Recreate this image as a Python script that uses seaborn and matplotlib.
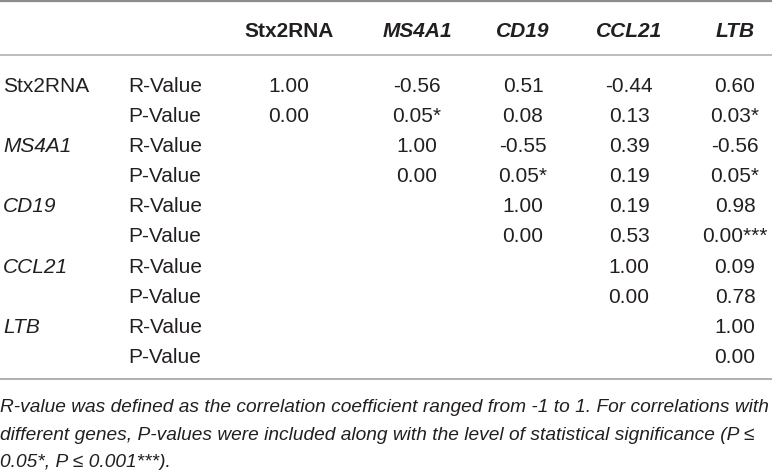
import matplotlib
matplotlib.use("Agg")
import matplotlib.pyplot as plt
import seaborn as sns
from matplotlib import font_manager

sns.set_theme(style="white")

# table content
genes = ["Stx2RNA", "MS4A1", "CD19", "CCL21", "LTB"]
italic_genes = [False, True, True, True, True]

# upper triangle, row i holds columns i..4
r_values = [
    [1.00, -0.56, 0.51, -0.44, 0.60],
    [1.00, -0.55, 0.39, -0.56],
    [1.00, 0.19, 0.98],
    [1.00, 0.09],
    [1.00],
]
p_values = [
    [0.00, 0.05, 0.08, 0.13, 0.03],
    [0.00, 0.05, 0.19, 0.05],
    [0.00, 0.53, 0.00],
    [0.00, 0.78],
    [0.00],
]
p_stars = [
    ["", "*", "", "", "*"],
    ["", "*", "", "*"],
    ["", "", "***"],
    ["", ""],
    [""],
]
stat_labels = ["R-Value", "P-Value"]

footnote = [
    "R-value was defined as the correlation coefficient ranged from -1 to 1. For correlations with",
    "different genes, P-values were included along with the level of statistical significance (P \u2264",
    "0.05*, P \u2264 0.001***).",
]

installed = {f.name for f in font_manager.fontManager.ttflist}
main_font = "Liberation Sans" if "Liberation Sans" in installed else "DejaVu Sans"
note_font = "Liberation Sans Narrow" if "Liberation Sans Narrow" in installed else main_font
plt.rcParams["font.family"] = [main_font, "DejaVu Sans"]

W, H = 772, 470
fig = plt.figure(figsize=(W / 100, H / 100), dpi=100)
ax = fig.add_axes([0, 0, 1, 1])
ax.set_xlim(0, W)
ax.set_ylim(H, 0)
ax.axis("off")

fs = 15
txt = "#231f20"
col_x = [289, 417, 523, 629, 735]
gene_x, stat_x = 3, 128
head_base = 37
row_base0, row_h = 92, 30.1

# rules
ax.axhline(1, color="#8c8c8c", lw=1.6)
ax.axhline(55, color="#bdbdbd", lw=1.4)
ax.axhline(379, color="#b0b0b0", lw=1.4)

# header
for j, g in enumerate(genes):
    ax.text(col_x[j], head_base, g, ha="center", va="baseline", fontsize=fs,
            fontweight="bold", fontstyle="italic" if italic_genes[j] else "normal", color=txt)

# body
for i, g in enumerate(genes):
    yr = row_base0 + (2 * i) * row_h
    yp = row_base0 + (2 * i + 1) * row_h
    ax.text(gene_x, yr, g, ha="left", va="baseline", fontsize=fs,
            fontstyle="italic" if italic_genes[i] else "normal", color=txt)
    ax.text(stat_x, yr, stat_labels[0], ha="left", va="baseline", fontsize=fs, color=txt)
    ax.text(stat_x, yp, stat_labels[1], ha="left", va="baseline", fontsize=fs, color=txt)
    for k, (r, p, s) in enumerate(zip(r_values[i], p_values[i], p_stars[i])):
        x = col_x[i + k]
        ax.text(x, yr, f"{r:.2f}", ha="center", va="baseline", fontsize=fs, color=txt)
        ax.text(x, yp, f"{p:.2f}{s}", ha="center", va="baseline", fontsize=fs, color=txt)

# footnote, fitted to the table width
note_base = [412, 440, 467]
renderer = fig.canvas.get_renderer()
t0 = ax.text(0, note_base[0], footnote[0], ha="left", va="baseline", fontsize=fs,
             fontstyle="italic", family=[note_font, "DejaVu Sans"], color=txt)
wpx = t0.get_window_extent(renderer).width
note_fs = fs * 769 / wpx
t0.set_fontsize(note_fs)
for line, yb in zip(footnote[1:], note_base[1:]):
    ax.text(0, yb, line, ha="left", va="baseline", fontsize=note_fs,
            fontstyle="italic", family=[note_font, "DejaVu Sans"], color=txt)

fig.savefig("out.png", dpi=100)
